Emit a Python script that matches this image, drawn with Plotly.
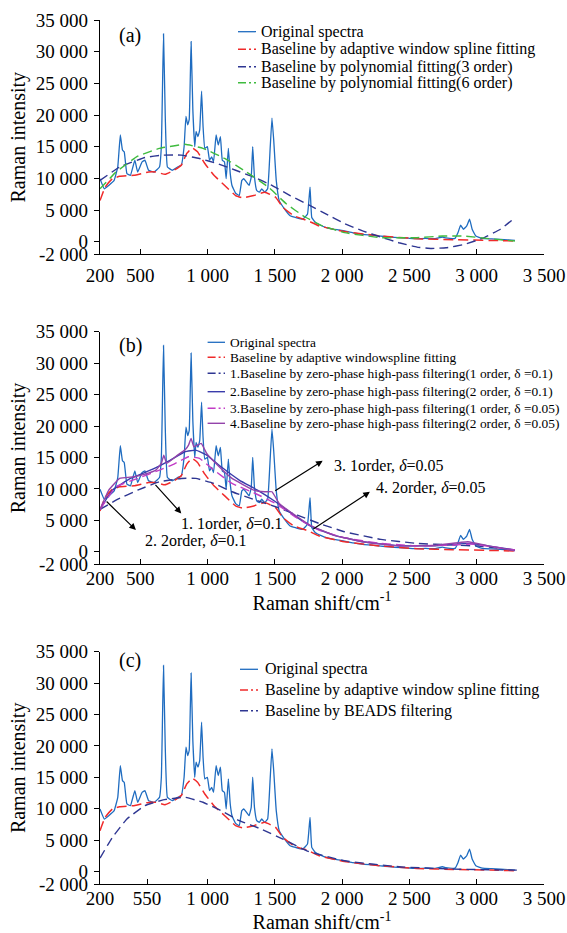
import plotly.graph_objects as go

# ---------------- data ----------------
spec_x = [200, 232, 265, 305, 332, 351, 367, 380, 400, 426, 459, 480, 513, 534, 561, 602, 642, 656,
          672, 685, 701, 737, 777, 804, 825, 839, 852, 863, 877, 890, 904, 914, 928, 941, 955, 966,
          979, 998, 1014, 1030, 1044, 1063, 1079, 1095, 1109, 1125, 1138, 1154, 1168, 1181, 1208,
          1235, 1254, 1268, 1289, 1308, 1324, 1335, 1348, 1365, 1384, 1402, 1424, 1446, 1464, 1478,
          1491, 1510, 1532, 1572, 1613, 1653, 1707, 1742, 1761, 1774, 1801, 1840, 1882, 1930, 1975,
          2017, 2080, 2152, 2220, 2287, 2350, 2422, 2490, 2556, 2620, 2691, 2745, 2770, 2799, 2839,
          2861, 2880, 2901, 2926, 2947, 2966, 2993, 3042, 3110, 3176, 3230, 3284]
spec_y = [9950, 8350, 8880, 9680, 11800, 16860, 14470, 14200, 10750, 10480, 12870, 11000, 12600,
          12870, 11280, 11000, 11800, 15000, 32820, 19800, 11800, 11280, 11800, 12080, 15000, 19800,
          18460, 19260, 31600, 20850, 15000, 17400, 16600, 17660, 23780, 18200, 14740, 15000, 12870,
          13400, 12600, 16860, 15270, 16600, 12870, 12600, 9950, 14740, 10750, 8880, 7660, 7290, 9680,
          9950, 9420, 8880, 10210, 15000, 10210, 8090, 7820, 8350, 7820, 8350, 14470, 19520, 16070,
          9680, 6490, 5160, 4100, 3830, 3560, 4360, 8620, 3830, 3030, 2600, 2230, 2000, 1850, 1700,
          1400, 1170, 1050, 900, 760, 640, 560, 480, 520, 480, 745, 600, 530, 530, 1440, 2600, 1970,
          2500, 3560, 1970, 900, 530, 450, 370, 300, 210]

awsf_x = [200, 238, 292, 346, 453, 561, 615, 683, 750, 804, 845, 885, 925, 979, 1047, 1127, 1208,
          1262, 1343, 1424, 1505, 1559, 1640, 1748, 1828, 2017, 2287, 2556, 2826, 3096, 3298]
awsf_y = [6490, 8620, 9950, 10320, 10480, 11000, 11000, 10640, 11280, 12080, 13940, 14840, 14200,
          12340, 10480, 8880, 7290, 6920, 7290, 7820, 7020, 5430, 4100, 3300, 2500, 1600, 900, 480,
          320, 210, 110]

poly3_x = [200, 346, 534, 669, 804, 939, 1073, 1208, 1343, 1478, 1613, 1748, 1882, 2017, 2152, 2287,
           2422, 2556, 2664, 2772, 2907, 3042, 3176, 3271]
poly3_y = [9680, 11800, 13300, 13670, 13670, 13140, 12340, 11280, 10210, 8880, 7290, 5850, 4360, 2870,
           1700, 745, -160, -850, -1060, -960, -430, 530, 1970, 3560]

poly6_x = [200, 319, 480, 642, 831, 966, 1127, 1289, 1451, 1586, 1721, 1855, 2017, 2287, 2556, 2745,
           2907, 3069, 3284]
poly6_y = [8350, 11000, 13500, 14740, 15380, 14740, 13140, 11000, 8620, 5960, 3940, 2500, 1440, 640,
           640, 900, 900, 530, 110]

zp1_x = [200, 319, 480, 642, 804, 912, 1047, 1181, 1343, 1505, 1667, 1828, 2017, 2287, 2556, 2826,
         3015, 3284]
zp1_y = [6730, 8200, 9800, 11130, 11660, 11660, 10870, 9540, 8320, 7150, 5830, 4500, 3180, 1960, 1330,
         1060, 900, 265]

zp2_x = [200, 292, 426, 588, 723, 831, 912, 993, 1100, 1235, 1370, 1505, 1640, 1774, 1936, 2152, 2422,
         2691, 2934, 3096, 3284]
zp2_y = [6730, 9800, 11660, 13090, 14575, 15900, 16165, 15370, 13515, 11400, 9800, 7950, 5830, 3975,
         2650, 1590, 950, 950, 1325, 900, 265]

zp3_x = [200, 319, 480, 642, 750, 858, 939, 1047, 1181, 1343, 1505, 1667, 1828, 2017, 2287, 2556, 2826,
         2961, 3284]
zp3_y = [6730, 10335, 11660, 12985, 13940, 15100, 14840, 12985, 10865, 9380, 7685, 5300, 3445, 2225,
         1325, 950, 1060, 1220, 265]

zp4_x = [200, 265, 346, 453, 534, 615, 656, 674, 696, 777, 831, 858, 877, 898, 952, 993, 1073, 1181,
         1343, 1424, 1478, 1532, 1667, 1774, 1936, 2152, 2422, 2691, 2934, 3096, 3284]
zp4_y = [6730, 9800, 11660, 11925, 12350, 12985, 14045, 15370, 14045, 15370, 16165, 16960, 18020, 16700,
         17225, 15635, 13780, 11660, 9800, 9540, 9540, 7685, 5565, 4080, 2650, 1590, 900, 1000, 1590,
         900, 160]

beads_x = [200, 292, 400, 534, 669, 831, 966, 1100, 1235, 1397, 1559, 1748, 2017, 2422, 2826, 3298]
beads_y = [2130, 5430, 8360, 10490, 11400, 11820, 11020, 9690, 8090, 6760, 5165, 3195, 1700, 745, 370,
           210]

x_tickvals_ab = [200, 500, 1000, 1500, 2000, 2500, 3000, 3500]
x_ticktext_ab = ["200", "500", "1 000", "1 500", "2 000", "2 500", "3 000", "3 500"]
x_tickvals_c = [200, 550, 1000, 1500, 2000, 2500, 3000, 3500]
x_ticktext_c = ["200", "550", "1 000", "1 500", "2 000", "2 500", "3 000", "3 500"]
y_tickvals = [-2000, 0, 5000, 10000, 15000, 20000, 25000, 30000, 35000]
y_ticktext = ["-2 000", "0", "5 000", "10 000", "15 000", "20 000", "25 000", "30 000", "35 000"]

# ---------------- styles ----------------
FONT = "Liberation Serif"
BLUE = "#1f6cc0"
RED = "#f02a2a"
NAVY = "#2e3692"
GREEN = "#3fbb3f"
BLUE2 = "#3a3cab"
MAG = "#c23cc6"
PURP = "#9343aa"

W, H = 567, 933
ML, MR, MT, MB = 100, 23, 20, 49
PW, PH = W - ML - MR, H - MT - MB


def fx(px):
    return (px - ML) / PW


def fy(py):
    return (H - MB - py) / PH


fig = go.Figure()

panels = {
    "a": ("x", "y"),
    "b": ("x2", "y2"),
    "c": ("x3", "y3"),
}

series_a = [
    ("Original spectra", spec_x, spec_y, BLUE, "solid", 1.3),
    ("Baseline by adaptive window spline fitting", awsf_x, awsf_y, RED, "10px,5px", 1.5),
    ("Baseline by polynomial fitting(3 order)", poly3_x, poly3_y, NAVY, "9px,5px", 1.4),
    ("Baseline by polynomial fitting(6 order)", poly6_x, poly6_y, GREEN, "9px,5px", 1.4),
]
series_b = [
    ("Original spectra", spec_x, spec_y, BLUE, "solid", 1.3),
    ("Baseline by adaptive windowspline fitting", awsf_x, awsf_y, RED, "10px,5px", 1.5),
    ("1.Baseline by zero-phase high-pass filtering(1 order, δ =0.1)", zp1_x, zp1_y, NAVY, "9px,5px", 1.4),
    ("2.Baseline by zero-phase high-pass filtering(2 order, δ =0.1)", zp2_x, zp2_y, BLUE2, "solid", 1.4),
    ("3.Baseline by zero-phase high-pass filtering(1 order, δ =0.05)", zp3_x, zp3_y, MAG, "9px,5px", 1.4),
    ("4.Baseline by zero-phase high-pass filtering(2 order, δ =0.05)", zp4_x, zp4_y, PURP, "solid", 1.4),
]
series_c = [
    ("Original spectra", spec_x, spec_y, BLUE, "solid", 1.3),
    ("Baseline by adaptive window spline fitting", awsf_x, awsf_y, RED, "10px,5px", 1.5),
    ("Baseline by BEADS filtering", beads_x, beads_y, NAVY, "9px,5px", 1.4),
]

for key, series in (("a", series_a), ("b", series_b), ("c", series_c)):
    xa, ya = panels[key]
    for name, xs, ys, col, dash, wd in series:
        fig.add_trace(go.Scatter(x=xs, y=ys, mode="lines", name=name, xaxis=xa, yaxis=ya,
                                 line=dict(color=col, dash=dash, width=wd, shape="spline", smoothing=0.3),
                                 showlegend=False))

# ---------------- manual legends ----------------
shapes = []
annotations = []


def legend(series, rows, x0, x1, xt, size):
    for (name, _, _, col, dash, wd), py in zip(series, rows):
        shapes.append(dict(type="line", xref="paper", yref="paper", x0=fx(x0), x1=fx(x1),
                           y0=fy(py), y1=fy(py),
                           line=dict(color=col, dash=dash if dash == "solid" else "8px,3px,2px,3px", width=wd)))
        annotations.append(dict(xref="paper", yref="paper", x=fx(xt), y=fy(py), text=name,
                                showarrow=False, xanchor="left", yanchor="middle",
                                font=dict(family=FONT, size=size, color="black")))


legend(series_a, [31.7, 49.3, 66.7, 82.7], 238, 256, 259, 16)
legend(series_b, [342.3, 357.3, 373.3, 391.7, 408.3, 423.3], 207.6, 225, 227.5, 13.4)
legend(series_c, [669.3, 690, 710.7], 240, 258, 263, 16)

for lab, py in (("(a)", 35), ("(b)", 345), ("(c)", 660.7)):
    annotations.append(dict(xref="paper", yref="paper", x=fx(130), y=fy(py), text=lab, showarrow=False,
                            xanchor="center", yanchor="middle", font=dict(family=FONT, size=20, color="black")))

# ---------------- arrows / labels in panel b ----------------
arrows = [
    # head_x, head_y, tail_x, tail_y, text, text_x, text_y
    (1855, 14470, 1491, 9540, "3. 1order, <i>δ</i>=0.05", 2346, 13780),
    (2206, 9540, 1774, 3445, "4. 2order, <i>δ</i>=0.05", 2659, 10175),
    (804, 6095, 602, 10865, "1. 1order, <i>δ</i>=0.1", 1181, 4505),
    (467, 3445, 238, 8215, "2. 2order, <i>δ</i>=0.1", 912, 1855),
]
for hx, hy, tx, ty, txt, lx, ly in arrows:
    annotations.append(dict(xref="x2", yref="y2", x=hx, y=hy, ax=tx, ay=ty, axref="x2", ayref="y2",
                            text="", showarrow=True, arrowhead=2, arrowsize=1.1, arrowwidth=1.2,
                            arrowcolor="black"))
    annotations.append(dict(xref="x2", yref="y2", x=lx, y=ly, text=txt, showarrow=False,
                            xanchor="center", yanchor="middle", font=dict(family=FONT, size=16, color="black")))


# ---------------- axes ----------------
def xaxis(anchor, tv, tt, lab_off, title=None, t_off=0):
    d = dict(anchor=anchor, domain=[0, 1], range=[200, 3500], tickvals=tv, ticktext=tt,
             ticks="inside", ticklen=5, tickwidth=1, tickcolor="black", showline=True, linecolor="black",
             linewidth=1.2, showgrid=False, zeroline=False, ticklabelstandoff=lab_off,
             tickfont=dict(family=FONT, size=19, color="black"))
    if title:
        d["title"] = dict(text=title, standoff=t_off, font=dict(family=FONT, size=20, color="black"))
    return d


def yaxis(anchor, dom):
    return dict(anchor=anchor, domain=dom, range=[-2000, 35000], tickvals=y_tickvals, ticktext=y_ticktext,
                ticks="outside", ticklen=5, tickwidth=1, tickcolor="black", showline=True,
                linecolor="black", linewidth=1.2, showgrid=False, zeroline=False, ticklabelstandoff=2,
                tickfont=dict(family=FONT, size=19, color="black"),
                title=dict(text="Raman intensity", standoff=4, font=dict(family=FONT, size=20, color="black")))


fig.update_layout(
    width=W, height=H, margin=dict(l=ML, r=MR, t=MT, b=MB, autoexpand=False),
    paper_bgcolor="white", plot_bgcolor="white", showlegend=False,
    font=dict(family=FONT, color="black"),
    xaxis=xaxis("y", x_tickvals_ab, x_ticktext_ab, 4),
    yaxis=yaxis("x", [fy(254.4), fy(20)]),
    xaxis2=xaxis("y2", x_tickvals_ab, x_ticktext_ab, -3, "Raman shift/cm<sup>-1</sup>", 7),
    yaxis2=yaxis("x2", [fy(564.3), fy(331.7)]),
    xaxis3=xaxis("y3", x_tickvals_c, x_ticktext_c, -3, "Raman shift/cm<sup>-1</sup>", 11),
    yaxis3=yaxis("x3", [0, fy(651.7)]),
    shapes=shapes, annotations=annotations,
)

fig.write_html("out.html", config={"displayModeBar": False},
               post_script="document.body.style.margin='0';document.body.style.overflow='hidden';")
